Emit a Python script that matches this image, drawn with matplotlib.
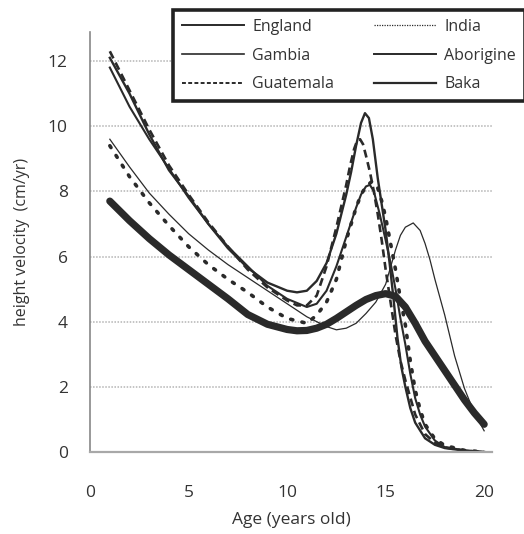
import matplotlib.pyplot as plt
from matplotlib.lines import Line2D

plt.rcParams['font.family'] = ['Open Sans', 'DejaVu Sans']

# ages / velocities (cm/yr)
england_age = [1, 2, 3, 4, 5, 6, 7, 8, 9, 10, 10.5, 11, 11.5, 12, 12.5, 13, 13.25, 13.5,
               13.75, 13.95, 14.15, 14.35, 14.6, 14.8, 15, 15.2, 15.4, 15.6, 15.8, 16,
               16.25, 16.5, 17, 17.5, 18, 19, 20]
england_vel = [12.1, 11.0, 9.75, 8.65, 7.85, 7.0, 6.25, 5.65, 5.2, 4.95, 4.9, 4.95, 5.25,
               5.8, 6.7, 7.9, 8.6, 9.4, 10.1, 10.4, 10.25, 9.6, 8.4, 7.6, 6.8, 5.8, 4.7,
               3.5, 2.6, 2.0, 1.35, 0.9, 0.42, 0.22, 0.12, 0.04, 0.0]

gambia_age = [1, 2, 3, 4, 5, 6, 7, 8, 9, 10, 11, 12, 12.5, 13, 13.5, 14, 14.5, 15, 15.5,
              15.75, 16, 16.4, 16.75, 17, 17.25, 17.5, 17.75, 18, 18.5, 19, 19.5, 20]
gambia_vel = [9.6, 8.75, 7.95, 7.3, 6.7, 6.2, 5.75, 5.35, 4.95, 4.55, 4.15, 3.85, 3.75,
              3.8, 3.95, 4.25, 4.6, 5.15, 6.2, 6.65, 6.9, 7.03, 6.8, 6.4, 5.9, 5.3, 4.75,
              4.2, 2.95, 1.95, 1.2, 0.65]

guatemala_age = [1, 2, 3, 4, 5, 6, 7, 8, 9, 10, 10.5, 11, 11.5, 12, 12.5, 13, 13.2, 13.4,
                 13.55, 13.7, 13.85, 14, 14.2, 14.4, 14.6, 14.8, 15, 15.25, 15.5, 15.75,
                 16, 16.5, 17, 17.5, 18, 19, 20]
guatemala_vel = [12.3, 11.1, 9.9, 8.8, 7.9, 7.05, 6.3, 5.6, 5.05, 4.65, 4.5, 4.5, 4.8,
                 5.7, 6.9, 8.2, 8.8, 9.3, 9.55, 9.6, 9.45, 9.1, 8.6, 8.0, 7.3, 6.5, 5.6,
                 4.6, 3.6, 2.8, 2.2, 1.15, 0.55, 0.28, 0.14, 0.04, 0.0]

india_age = [1, 2, 3, 4, 5, 6, 7, 8, 9, 10, 11, 11.5, 12, 12.5, 13, 13.5, 13.75, 14, 14.3,
             14.6, 14.8, 15, 15.25, 15.5, 15.75, 16, 16.25, 16.5, 16.75, 17, 17.5, 18,
             19, 20]
india_vel = [9.4, 8.45, 7.65, 6.95, 6.3, 5.75, 5.3, 4.9, 4.45, 4.1, 3.95, 4.2, 4.6, 5.3,
             6.5, 7.5, 7.9, 8.15, 8.3, 8.1, 7.7, 7.2, 6.4, 5.6, 4.7, 3.9, 2.8, 1.9, 1.3,
             0.85, 0.4, 0.2, 0.05, 0.0]

aborigine_age = [1, 2, 3, 4, 5, 6, 7, 8, 9, 10, 11, 11.5, 12, 12.5, 13, 13.5, 13.75, 14,
                 14.2, 14.4, 14.7, 15, 15.25, 15.5, 15.75, 16, 16.25, 16.5, 16.75, 17,
                 17.5, 18, 19, 20]
aborigine_vel = [11.8, 10.6, 9.6, 8.7, 7.8, 7.0, 6.3, 5.7, 5.1, 4.7, 4.45, 4.55, 4.95,
                 5.7, 6.6, 7.5, 7.9, 8.15, 8.2, 8.0, 7.3, 6.5, 5.8, 5.0, 4.1, 3.3, 2.4,
                 1.65, 1.15, 0.78, 0.35, 0.15, 0.05, 0.0]

baka_age = [1, 1.5, 2, 3, 4, 5, 6, 7, 8, 9, 10, 10.5, 11, 11.5, 12, 12.5, 13, 13.5, 14,
            14.5, 15, 15.5, 16, 16.5, 17, 17.5, 18, 18.5, 19, 19.5, 20]
baka_vel = [7.7, 7.4, 7.1, 6.55, 6.05, 5.6, 5.15, 4.7, 4.22, 3.92, 3.76, 3.72, 3.73, 3.8,
            3.92, 4.1, 4.3, 4.5, 4.68, 4.8, 4.86, 4.78, 4.45, 3.95, 3.4, 2.95, 2.5, 2.05,
            1.6, 1.2, 0.85]

ink = '#2a2a2a'
txt = '#333333'


def main():
    fig = plt.figure(figsize=(5.24, 5.34), dpi=100)
    ax = fig.add_axes([0.172, 0.1536, 0.767, 0.787])

    for y in range(2, 13, 2):
        ax.axhline(y, color='#b4b4b4', lw=1.1, ls=(0, (1, 1)), zorder=0)

    ax.plot(gambia_age, gambia_vel, color=ink, lw=0.9)
    ax.plot(aborigine_age, aborigine_vel, color=ink, lw=1.5)
    ax.plot(england_age, england_vel, color=ink, lw=1.7)
    ax.plot(guatemala_age, guatemala_vel, color=ink, lw=1.9, ls=(0, (3, 1.8)))
    ax.plot(india_age, india_vel, color=ink, lw=2.6, ls=(0, (0.6, 2.6)),
            dash_capstyle='round')
    ax.plot(baka_age, baka_vel, color=ink, lw=5.2, solid_capstyle='round',
            solid_joinstyle='round')

    ax.set_xlim(0, 20.4)
    ax.set_ylim(0, 12.9)
    ax.set_xticks([0, 5, 10, 15, 20])
    ax.set_yticks(range(0, 13, 2))
    ax.tick_params(length=0, labelsize=12.5, colors=txt)
    ax.tick_params(axis='x', pad=24)
    ax.tick_params(axis='y', pad=16)
    for s in ['top', 'right']:
        ax.spines[s].set_visible(False)
    ax.spines['left'].set_color('#888888')
    ax.spines['left'].set_linewidth(1.2)
    ax.spines['bottom'].set_color('#a8a8a8')
    ax.spines['bottom'].set_linewidth(1.6)

    ax.set_xlabel('Age (years old)', fontsize=12.5, color=txt, labelpad=8)
    ax.set_ylabel('height velocity  (cm/yr)', fontsize=11.5, color=txt, labelpad=13)

    handles = [
        Line2D([], [], color=ink, lw=1.4),
        Line2D([], [], color=ink, lw=1.2),
        Line2D([], [], color=ink, lw=1.4, ls=(0, (2, 1.2))),
        Line2D([], [], color=ink, lw=0.9, ls=(0, (1, 1))),
        Line2D([], [], color=ink, lw=1.4),
        Line2D([], [], color=ink, lw=1.6),
    ]
    names = ['England', 'Gambia', 'Guatemala', 'India', 'Aborigine', 'Baka']
    leg = fig.legend(handles, names, ncol=2, loc='upper left', mode='expand',
                     bbox_to_anchor=(173 / 524, 1 - 10 / 534, 352 / 524, 0),
                     fontsize=11.5, handlelength=3.9, handletextpad=0.5,
                     columnspacing=1.4, labelspacing=0.8, borderpad=0.55,
                     borderaxespad=0, fancybox=False, framealpha=1)
    leg.get_frame().set_edgecolor('#222222')
    leg.get_frame().set_linewidth(2.6)
    for t in leg.get_texts():
        t.set_color(txt)

    fig.savefig('out.png', dpi=100)
    plt.close(fig)


if __name__ == '__main__':
    main()
